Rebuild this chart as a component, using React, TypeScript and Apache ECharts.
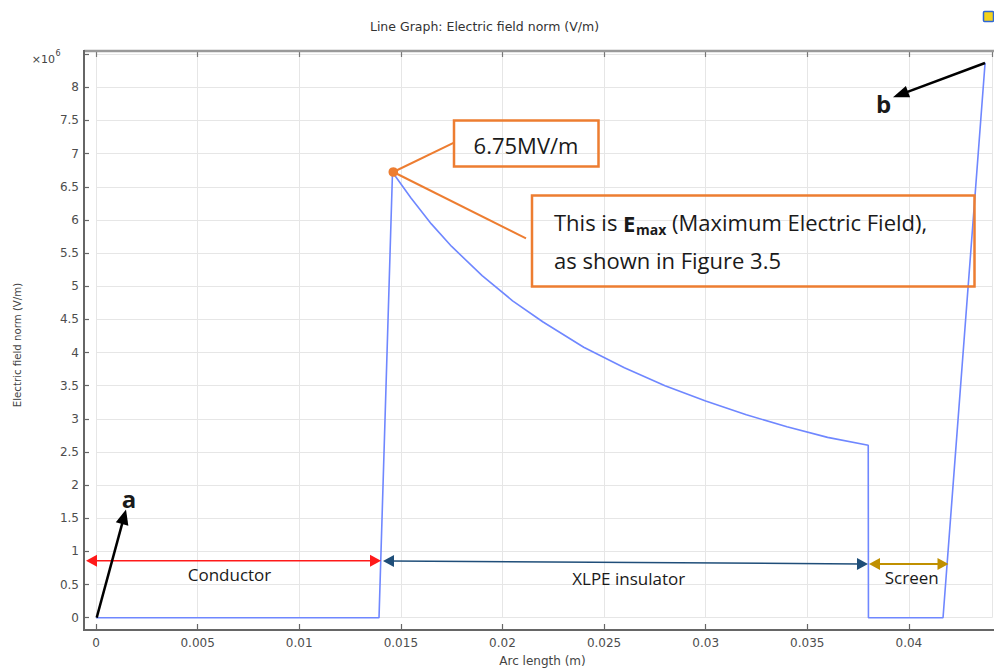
import React, { useEffect, useRef } from 'react';
import * as echarts from 'echarts';

// ---- data ----
const arcLength = [0, 0.013927, 0.01459, 0.0155, 0.0165, 0.0175, 0.019, 0.0205, 0.022, 0.024, 0.026, 0.028, 0.03, 0.032, 0.034, 0.036, 0.038, 0.03801, 0.04168, 0.04375];
const fieldNorm = [0, 0, 6.72, 6.33, 5.94, 5.6, 5.16, 4.78, 4.46, 4.08, 3.77, 3.5, 3.27, 3.06, 2.88, 2.72, 2.6, 0, 0, 8.37]; // x10^6 V/m
const xTickValues = [0, 0.005, 0.01, 0.015, 0.02, 0.025, 0.03, 0.035, 0.04];
const xTickLabels = ['0', '0.005', '0.01', '0.015', '0.02', '0.025', '0.03', '0.035', '0.04'];
const yTickValues = [0, 0.5, 1, 1.5, 2, 2.5, 3, 3.5, 4, 4.5, 5, 5.5, 6, 6.5, 7, 7.5, 8];
const yTickLabels = ['0', '0.5', '1', '1.5', '2', '2.5', '3', '3.5', '4', '4.5', '5', '5.5', '6', '6.5', '7', '7.5', '8'];
const regionNames = ['Conductor', 'XLPE insulator', 'Screen'];
const peakLabel = '6.75MV/m';
const titleText = 'Line Graph: Electric field norm (V/m)';
const xName = 'Arc length (m)';
const yName = 'Electric field norm (V/m)';

const ORANGE = '#ed7d31';
const AXIS_FONT = '"DejaVu Sans", sans-serif';
const NOTE_FONT = '"Open Sans", sans-serif';

function lookup(v: number, vals: number[], labels: string[]) {
  for (let i = 0; i < vals.length; i++) if (Math.abs(vals[i] - v) < 1e-9) return labels[i];
  return '';
}

let measureCtx: CanvasRenderingContext2D | null = null;
function tw(text: string, font: string) {
  if (!measureCtx) measureCtx = document.createElement('canvas').getContext('2d');
  measureCtx!.font = font;
  return measureCtx!.measureText(text).width;
}

function head(tx: number, ty: number, fx: number, fy: number, len: number, w: number, color: string) {
  const dx = tx - fx, dy = ty - fy, d = Math.hypot(dx, dy);
  const ux = dx / d, uy = dy / d;
  const bx = tx - ux * len, by = ty - uy * len;
  const px = -uy * w / 2, py = ux * w / 2;
  return { type: 'polygon', z: 120, shape: { points: [[tx, ty], [bx + px, by + py], [bx - px, by - py]] }, style: { fill: color } };
}

function arrow(x1: number, y1: number, x2: number, y2: number, color: string, lw: number, len: number, w: number, both: boolean) {
  const dx = x2 - x1, dy = y2 - y1, d = Math.hypot(dx, dy);
  const ux = dx / d, uy = dy / d;
  const sx = both ? x1 + ux * len * 0.7 : x1, sy = both ? y1 + uy * len * 0.7 : y1;
  const ex = x2 - ux * len * 0.7, ey = y2 - uy * len * 0.7;
  const els: any[] = [
    { type: 'line', z: 119, shape: { x1: sx, y1: sy, x2: ex, y2: ey }, style: { stroke: color, lineWidth: lw } },
    head(x2, y2, x1, y1, len, w, color),
  ];
  if (both) els.push(head(x1, y1, x2, y2, len, w, color));
  return els;
}

export default function App() {
  const ref = useRef<HTMLDivElement>(null);
  useEffect(() => {
    document.body.style.margin = '0';
    const chart = echarts.init(ref.current!, undefined, { renderer: 'svg' });

    const n22 = `normal 22px "Open Sans"`;
    const b22 = `bold 22px "Open Sans"`;
    const b14 = `bold 14px "Open Sans"`;
    const x0 = 554;
    const w1 = tw('This is ', n22);
    const wE = tw('E', b22);
    const wM = tw('max', b14);

    const noteText = (text: string, x: number, y: number, size: number, weight: any = 'normal', align: any = 'left') => ({
      type: 'text', z: 121, x, y,
      style: { text, fontFamily: NOTE_FONT, fontSize: size, fontWeight: weight, fill: '#1a1a1a', align, verticalAlign: 'middle' },
    });

    const graphic: any[] = [
      // title
      { type: 'text', x: 484.5, y: 26, style: { text: titleText, fontFamily: AXIS_FONT, fontSize: 12.5, fill: '#333', align: 'center', verticalAlign: 'middle' } },
      // small icon top-right
      { type: 'rect', shape: { x: 983.5, y: 11.5, width: 10, height: 10, r: 1 }, style: { fill: '#f3d21a', stroke: '#2d66d6', lineWidth: 1.5 } },
      // frame
      { type: 'line', z: 50, shape: { x1: 84, y1: 51, x2: 994, y2: 51 }, style: { stroke: '#9a9a9a', lineWidth: 2.5 } },
      { type: 'line', z: 50, shape: { x1: 84, y1: 50, x2: 84, y2: 631 }, style: { stroke: '#666', lineWidth: 2 } },
      { type: 'line', z: 50, shape: { x1: 83, y1: 630, x2: 994, y2: 630 }, style: { stroke: '#666', lineWidth: 2 } },
      // x10^6
      { type: 'text', x: 55, y: 59, style: { text: '×10', fontFamily: AXIS_FONT, fontSize: 11, fill: '#444', align: 'right', verticalAlign: 'middle' } },
      { type: 'text', x: 55.5, y: 53.5, style: { text: '6', fontFamily: AXIS_FONT, fontSize: 8, fill: '#444', align: 'left', verticalAlign: 'middle' } },
      // axis names
      { type: 'text', x: 542.5, y: 661, style: { text: xName, fontFamily: AXIS_FONT, fontSize: 12, fill: '#444', align: 'center', verticalAlign: 'middle' } },
      { type: 'text', x: 17, y: 345, rotation: Math.PI / 2, style: { text: yName, fontFamily: AXIS_FONT, fontSize: 10.2, fill: '#444', align: 'center', verticalAlign: 'middle' } },
      // region arrows
      ...arrow(86, 560.7, 381, 560.7, '#ff1a1a', 1.5, 11, 12, true),
      ...arrow(383, 561, 868, 564, '#1f4e79', 1.5, 11, 12, true),
      ...arrow(869, 564, 948.5, 564, '#c09000', 2, 11, 12, true),
      noteText(regionNames[0], 229.5, 574.5, 17, 'normal', 'center'),
      noteText(regionNames[1], 628.7, 578.5, 17, 'normal', 'center'),
      noteText(regionNames[2], 911.7, 577.5, 17, 'normal', 'center'),
      // a / b arrows
      ...arrow(96.7, 617.7, 126, 509.5, '#000', 2.5, 15, 13, false),
      noteText('a', 129, 498, 24, 'bold', 'center'),
      ...arrow(985, 63, 893, 97.3, '#000', 2.5, 16, 12, false),
      noteText('b', 883.7, 103, 24, 'bold', 'center'),
      // peak annotation
      { type: 'line', z: 118, shape: { x1: 393.3, y1: 172, x2: 454, y2: 142.7 }, style: { stroke: ORANGE, lineWidth: 2 } },
      { type: 'line', z: 118, shape: { x1: 393.3, y1: 172, x2: 526, y2: 238.3 }, style: { stroke: ORANGE, lineWidth: 2 } },
      { type: 'circle', z: 122, shape: { cx: 393.3, cy: 172, r: 4.8 }, style: { fill: ORANGE } },
      { type: 'rect', z: 118, shape: { x: 454, y: 120.5, width: 144.5, height: 46 }, style: { fill: 'none', stroke: ORANGE, lineWidth: 2.5 } },
      noteText(peakLabel, 526, 145, 22, 'normal', 'center'),
      { type: 'rect', z: 118, shape: { x: 532, y: 195.5, width: 442.5, height: 91 }, style: { fill: 'none', stroke: ORANGE, lineWidth: 2.5 } },
      noteText('This is ', x0, 222, 22),
      noteText('E', x0 + w1, 223, 22, 'bold'),
      noteText('max', x0 + w1 + wE + 0.5, 229.5, 14, 'bold'),
      noteText(' (Maximum Electric Field),', x0 + w1 + wE + wM + 0.5, 222, 22),
      noteText('as shown in Figure 3.5', x0, 259.5, 22),
    ];

    const seriesData = arcLength.map((x, i) => [x, fieldNorm[i]]);

    chart.setOption({
      animation: false,
      grid: { left: 96, right: 2, top: 51, bottom: 51.3, containLabel: false },
      xAxis: [
        {
          type: 'value', position: 'bottom', min: 0, max: 0.04409, interval: 0.005, offset: 12.3,
          axisLine: { show: true, onZero: false, lineStyle: { color: '#666', width: 2 } },
          axisTick: { show: true, inside: true, length: 6, lineStyle: { color: '#666', width: 1.2 } },
          axisLabel: { margin: 7, fontFamily: AXIS_FONT, fontSize: 12, color: '#4d4d4d', showMaxLabel: false, formatter: (v: number) => lookup(v, xTickValues, xTickLabels) },
          splitLine: { show: true, lineStyle: { color: '#e6e6e6', width: 1 } },
        },
        {
          type: 'value', position: 'top', min: 0, max: 0.04409, interval: 0.005,
          axisLine: { show: false, onZero: false },
          axisTick: { show: true, inside: true, length: 6, lineStyle: { color: '#777', width: 1.2 } },
          axisLabel: { show: false },
          splitLine: { show: false },
        },
      ],
      yAxis: {
        type: 'value', min: 0, max: 8.548, interval: 0.5, offset: 12,
        axisLine: { show: true, onZero: false, lineStyle: { color: '#666', width: 2 } },
        axisTick: { show: true, inside: true, length: 5, lineStyle: { color: '#666', width: 1.2 } },
        axisLabel: { margin: 5, fontFamily: AXIS_FONT, fontSize: 12, color: '#4d4d4d', showMaxLabel: false, formatter: (v: number) => lookup(v, yTickValues, yTickLabels) },
        splitLine: { show: true, lineStyle: { color: '#e6e6e6', width: 1 } },
      },
      series: [
        {
          type: 'line', data: seriesData, showSymbol: false, clip: false, xAxisIndex: 0,
          lineStyle: { color: '#6f87ff', width: 1.6 }, z: 10,
        },
      ],
      graphic,
    });
    return () => chart.dispose();
  }, []);
  return <div ref={ref} style={{ width: 994, height: 669 }} />;
}
